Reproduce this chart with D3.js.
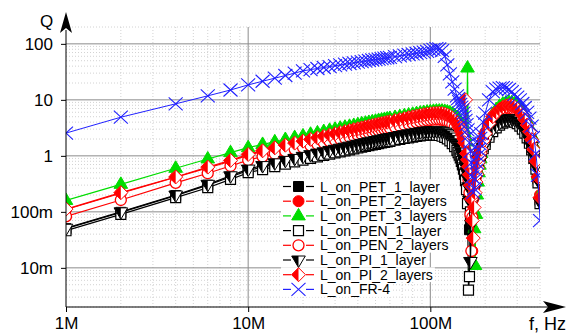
<!DOCTYPE html>
<html>
<head>
<meta charset="utf-8">
<script src="https://cdn.jsdelivr.net/npm/d3@7"></script>
<style>
  body { margin: 0; background: #fff; }
  svg { display: block; font-family: "Liberation Sans", Arial, sans-serif; }
</style>
</head>
<body>
<div id="chart"></div>
<script>
////////////////////////////////////////////////////////
//////////////////// Data //////////////////////////////
////////////////////////////////////////////////////////

// frequency points, MHz
let freqMHz = [
  1, 2, 4, 6, 8, 10, 12, 14, 16, 18, 20,
  22, 24, 26, 28, 30, 32, 34, 36, 38, 40, 42, 44, 46, 48, 50, 52, 54, 56, 58, 60,
  64, 68, 72, 76, 80, 84, 88, 92, 96, 100, 104, 108, 112, 116, 120, 124, 128, 132, 136, 140,
  142, 144, 146, 148, 150, 152, 154, 156, 158, 160, 162, 164, 166, 168, 170, 172, 174, 176, 178, 180, 182, 184, 186, 188, 190,
  195, 200, 210, 220, 230, 240, 250, 260, 270, 280, 290, 300, 310, 320, 330, 340, 350, 360, 370, 380, 390, 400
];

let qPET1 = [
  0.050, 0.098, 0.195, 0.30, 0.42, 0.55, 0.63, 0.71, 0.79, 0.86, 0.93,
  1.00, 1.06, 1.12, 1.18, 1.24, 1.30, 1.36, 1.42, 1.48, 1.53, 1.59, 1.64, 1.69, 1.74, 1.79, 1.84, 1.89, 1.93, 1.98, 2.02,
  2.10, 2.18, 2.26, 2.33, 2.40, 2.46, 2.52, 2.57, 2.61, 2.64, 2.65, 2.64, 2.60, 2.53, 2.43, 2.30, 2.14, 1.95, 1.74, 1.51,
  1.39, 1.27, 1.14, 1.01, 0.88, 0.75, 0.62, 0.50, 0.38, 0.27, 0.16, 0.048, 0.07, 0.14, 0.22, 0.30, 0.38, 0.47, 0.56, 0.65, 0.75, 0.85, 0.95, 1.05, 1.15,
  1.45, 1.75, 2.4, 3.0, 3.55, 4.0, 4.35, 4.6, 4.75, 4.75, 4.6, 4.3, 3.9, 3.45, 2.95, 2.45, 1.95, 1.5, 1.05, 0.68, 0.38, 0.16
];

let qPET2 = [
  0.110, 0.215, 0.415, 0.61, 0.80, 1.03, 1.19, 1.33, 1.47, 1.60, 1.72,
  1.85, 1.97, 2.09, 2.21, 2.32, 2.43, 2.54, 2.65, 2.75, 2.85, 2.95, 3.05, 3.15, 3.24, 3.33, 3.42, 3.51, 3.60, 3.68, 3.77,
  3.95, 4.12, 4.28, 4.44, 4.60, 4.75, 4.89, 5.02, 5.13, 5.23, 5.30, 5.34, 5.33, 5.27, 5.15, 4.97, 4.72, 4.40, 4.00, 3.55,
  3.30, 3.03, 2.75, 2.45, 2.15, 1.85, 1.55, 1.27, 1.02, 0.80, 0.60, 0.42, 0.26, 0.12, 0.02, 0.09, 0.19, 0.30, 0.42, 0.55, 0.70, 0.86, 1.03, 1.20, 1.40,
  1.95, 2.6, 3.9, 5.1, 6.1, 6.9, 7.5, 7.9, 8.0, 7.9, 7.5, 6.9, 6.2, 5.4, 4.5, 3.6, 2.75, 2.0, 1.35, 0.85, 0.45, 0.2
];

let qPET3 = [
  0.16, 0.31, 0.60, 0.88, 1.14, 1.40, 1.60, 1.78, 1.96, 2.12, 2.27,
  2.43, 2.57, 2.72, 2.86, 2.99, 3.12, 3.25, 3.37, 3.49, 3.61, 3.73, 3.84, 3.95, 4.06, 4.16, 4.27, 4.37, 4.47, 4.57, 4.66,
  4.85, 5.03, 5.20, 5.37, 5.53, 5.68, 5.82, 5.95, 6.06, 6.16, 6.25, 6.30, 6.32, 6.30, 6.22, 6.08, 5.88, 5.60, 5.25, 4.82,
  4.57, 4.30, 4.00, 3.68, 3.34, 2.98, 2.60, 2.20, 1.78, 37, 1.10, 0.80, 0.55, 0.36, 0.21, 0.11, 0.05, 0.011, 0.09, 0.2, 0.34, 0.5, 0.68, 0.88, 1.1,
  1.7, 2.4, 3.9, 5.4, 6.7, 7.7, 8.4, 8.8, 9.0, 8.9, 8.5, 7.9, 7.1, 6.2, 5.2, 4.2, 3.2, 2.3, 1.5, 0.9, 0.45, 0.2
];

let qPEN1 = [
  0.046, 0.09, 0.18, 0.27, 0.38, 0.50, 0.57, 0.64, 0.71, 0.78, 0.84,
  0.90, 0.96, 1.02, 1.07, 1.13, 1.18, 1.23, 1.28, 1.33, 1.38, 1.43, 1.48, 1.52, 1.57, 1.61, 1.66, 1.70, 1.74, 1.78, 1.82,
  1.90, 1.97, 2.04, 2.10, 2.16, 2.22, 2.27, 2.31, 2.34, 2.36, 2.37, 2.35, 2.31, 2.24, 2.14, 2.01, 1.85, 1.66, 1.46, 1.25,
  1.14, 1.03, 0.92, 0.80, 0.69, 0.58, 0.47, 0.36, 0.25, 0.14, 0.004, 0.007, 0.10, 0.18, 0.26, 0.34, 0.42, 0.50, 0.58, 0.66, 0.75, 0.84, 0.93, 1.02, 1.11,
  1.35, 1.6, 2.15, 2.7, 3.15, 3.55, 3.85, 4.05, 4.15, 4.15, 4.0, 3.75, 3.4, 3.0, 2.55, 2.1, 1.68, 1.28, 0.9, 0.58, 0.33, 0.14
];

let qPEN2 = [
  0.083, 0.163, 0.33, 0.49, 0.66, 0.84, 0.97, 1.09, 1.20, 1.31, 1.41,
  1.52, 1.61, 1.71, 1.81, 1.90, 1.99, 2.08, 2.17, 2.26, 2.34, 2.43, 2.51, 2.59, 2.67, 2.75, 2.83, 2.90, 2.98, 3.05, 3.13,
  3.27, 3.42, 3.56, 3.70, 3.83, 3.96, 4.08, 4.19, 4.29, 4.37, 4.43, 4.46, 4.45, 4.39, 4.28, 4.11, 3.88, 3.59, 3.24, 2.84,
  2.63, 2.40, 2.16, 1.91, 1.66, 1.41, 1.17, 0.94, 0.73, 0.54, 0.37, 0.22, 0.09, 0.02, 0.08, 0.17, 0.27, 0.38, 0.50, 0.63, 0.77, 0.92, 1.08, 1.24, 1.41,
  1.88, 2.4, 3.5, 4.5, 5.4, 6.1, 6.6, 6.9, 7.0, 6.9, 6.55, 6.05, 5.45, 4.75, 4.0, 3.2, 2.45, 1.78, 1.2, 0.75, 0.4, 0.17
];

let qPI1 = [
  0.051, 0.10, 0.20, 0.31, 0.44, 0.58, 0.67, 0.75, 0.83, 0.90, 0.98,
  1.05, 1.12, 1.18, 1.25, 1.31, 1.37, 1.43, 1.49, 1.55, 1.61, 1.67, 1.72, 1.78, 1.83, 1.88, 1.93, 1.98, 2.03, 2.08, 2.13,
  2.22, 2.31, 2.39, 2.47, 2.55, 2.62, 2.68, 2.74, 2.78, 2.81, 2.83, 2.83, 2.80, 2.74, 2.65, 2.52, 2.36, 2.17, 1.95, 1.71,
  1.58, 1.45, 1.32, 1.18, 1.04, 0.91, 0.78, 0.65, 0.52, 0.40, 0.28, 0.16, 0.013, 0.06, 0.15, 0.24, 0.33, 0.42, 0.52, 0.62, 0.72, 0.82, 0.92, 1.02, 1.12,
  1.4, 1.7, 2.35, 2.95, 3.45, 3.9, 4.25, 4.5, 4.62, 4.62, 4.48, 4.2, 3.82, 3.38, 2.9, 2.4, 1.92, 1.46, 1.02, 0.66, 0.37, 0.15
];

let qPI2 = [
  0.112, 0.22, 0.42, 0.63, 0.83, 1.06, 1.23, 1.39, 1.55, 1.69, 1.83,
  1.97, 2.10, 2.23, 2.36, 2.48, 2.60, 2.72, 2.84, 2.95, 3.06, 3.17, 3.28, 3.39, 3.49, 3.59, 3.69, 3.79, 3.89, 3.98, 4.08,
  4.27, 4.46, 4.64, 4.82, 4.99, 5.15, 5.30, 5.44, 5.56, 5.66, 5.74, 5.78, 5.77, 5.70, 5.57, 5.37, 5.10, 4.76, 4.34, 3.86,
  3.60, 3.32, 3.02, 2.70, 2.38, 2.05, 1.72, 10, 1.10, 0.85, 0.64, 0.46, 0.30, 0.17, 0.07, 0.034, 0.12, 0.22, 0.34, 0.47, 0.61, 0.77, 0.94, 1.12, 1.31,
  1.85, 2.5, 3.8, 5.0, 6.0, 6.8, 7.4, 7.8, 7.95, 7.85, 7.45, 6.85, 6.15, 5.35, 4.45, 3.55, 2.7, 1.95, 1.3, 0.8, 0.42, 0.18
];

let qFR4 = [
  2.55, 4.9, 8.5, 11.8, 15.0, 18.5, 21.5, 24.4, 27.2, 30.0, 33.0,
  34.7, 36.3, 37.8, 39.3, 40.7, 42.0, 43.3, 44.6, 45.8, 47.0, 48.2, 49.3, 50.4, 51.5, 52.5, 53.5, 54.5, 55.5, 56.5, 57.4,
  59.2, 61.0, 62.8, 64.5, 66.2, 67.9, 69.5, 71.0, 73.5, 77, 80, 82, 81, 76, 60, 42, 29, 21, 15.5, 11.8,
  10.5, 9.3, 8.3, 7.4, 6.6, 5.8, 5.0, 4.3, 3.6, 2.9, 2.3, 1.7, 1.2, 0.75, 0.42, 0.22, 0.26, 0.38, 0.55, 0.75, 1.0, 1.3, 1.65, 2.05, 2.5,
  4.0, 5.8, 10, 14, 15.5, 16.2, 16.5, 16.2, 15.3, 14, 12.5, 11.2, 10, 8.6, 7.3, 6.0, 4.7, 3.4, 2.2, 1.1, 0.45, 0.07
];

let seriesNames = ["L_on_PET_1_layer", "L_on_PET_2_layers", "L_on_PET_3_layers", "L_on_PEN_1_layer",
                   "L_on_PEN_2_layers", "L_on_PI_1_layer", "L_on_PI_2_layers", "L_on_FR-4"];

let xTickValues = [1e6, 1e7, 1e8];
let xTickLabels = ["1M", "10M", "100M"];
let yTickValues = [0.01, 0.1, 1, 10, 100];
let yTickLabels = ["10m", "100m", "1", "10", "100"];

////////////////////////////////////////////////////////
//////////////////// Setup /////////////////////////////
////////////////////////////////////////////////////////

let width = 568, height = 334;
let margin = ({ top: 27, right: 28, bottom: 27, left: 66 });

let colBlack = "#000000", colRed = "#ff0000", colGreen = "#00dd00", colBlue = "#2020ff";

let series = [
  { name: seriesNames[0], q: qPET1, color: colBlack, kind: "square" },
  { name: seriesNames[1], q: qPET2, color: colRed, kind: "circle" },
  { name: seriesNames[2], q: qPET3, color: colGreen, kind: "triangle" },
  { name: seriesNames[3], q: qPEN1, color: colBlack, kind: "openSquare" },
  { name: seriesNames[4], q: qPEN2, color: colRed, kind: "openCircle" },
  { name: seriesNames[5], q: qPI1, color: colBlack, kind: "halfTriDown" },
  { name: seriesNames[6], q: qPI2, color: colRed, kind: "halfDiamond" },
  { name: seriesNames[7], q: qFR4, color: colBlue, kind: "cross" }
];

let x = d3.scaleLog()
  .domain([1e6, 4e8])
  .range([margin.left, width - margin.right]);

let y = d3.scaleLog()
  .domain([0.002, 200])
  .range([height - margin.bottom, margin.top]);

// minor values 2..9 of each decade inside the domain
let minorValues = function(scale, decades) {
  let out = [];
  let [lo, hi] = scale.domain();
  decades.forEach(d => {
    for (let k = 2; k <= 9; k++) {
      let v = k * d;
      if (v >= lo * 0.999 && v <= hi * 1.001) out.push(v);
    }
  });
  return out;
};

let xMinor = minorValues(x, [1e6, 1e7, 1e8]);
let yMinor = minorValues(y, [1e-3, 1e-2, 1e-1, 1, 10, 100]);

////////////////////////////////////////////////////////
/////////////////////// Markers ////////////////////////
////////////////////////////////////////////////////////

let marker = function(g, kind, color) {
  if (kind === "square") {
    g.append("path").attr("d", "M-5,-5H5V5H-5Z").attr("fill", color).attr("stroke", color);
  } else if (kind === "circle") {
    g.append("circle").attr("r", 5.5).attr("fill", color).attr("stroke", color);
  } else if (kind === "triangle") {
    g.append("path").attr("d", "M0,-7.5L6.8,4L-6.8,4Z").attr("fill", color).attr("stroke", color);
  } else if (kind === "openSquare") {
    g.append("path").attr("d", "M-5,-5H5V5H-5Z").attr("fill", "#fff").attr("stroke", color).attr("stroke-width", 1.2);
  } else if (kind === "openCircle") {
    g.append("circle").attr("r", 5.5).attr("fill", "#fff").attr("stroke", color).attr("stroke-width", 1.3);
  } else if (kind === "halfTriDown") {
    g.append("path").attr("d", "M-6.8,-4L6.8,-4L0,7.5Z").attr("fill", "#fff").attr("stroke", color);
    g.append("path").attr("d", "M-6.8,-4L0,-4L0,7.5Z").attr("fill", color);
  } else if (kind === "halfDiamond") {
    g.append("path").attr("d", "M0,-7L7,0L0,7L-7,0Z").attr("fill", "#fff").attr("stroke", color);
    g.append("path").attr("d", "M0,-7L0,7L-7,0Z").attr("fill", color);
  } else if (kind === "cross") {
    g.append("path").attr("d", "M-7,-6.5L7,6.5M-7,6.5L7,-6.5").attr("fill", "none")
      .attr("stroke", color).attr("stroke-width", 1.1);
  }
};

/////////////////////////////////////////////////////////
//////////////////// Creating the figure ////////////////
/////////////////////////////////////////////////////////

let chart = function() {
  const svg = d3.select("#chart").append("svg")
    .attr("width", width)
    .attr("height", height)
    .attr("viewBox", [0, 0, width, height]);

  svg.append("defs").append("clipPath").attr("id", "plot-clip")
    .append("rect")
    .attr("x", margin.left).attr("y", margin.top)
    .attr("width", width - margin.left - margin.right)
    .attr("height", height - margin.top - margin.bottom);

  // grid
  const grid = svg.append("g");
  grid.selectAll(".vminor").data(xMinor).join("line")
    .attr("x1", d => x(d)).attr("x2", d => x(d))
    .attr("y1", margin.top).attr("y2", height - margin.bottom)
    .attr("stroke", "#d2d2d2").attr("stroke-dasharray", "1,2");
  grid.selectAll(".hminor").data(yMinor).join("line")
    .attr("y1", d => y(d)).attr("y2", d => y(d))
    .attr("x1", margin.left).attr("x2", width - margin.right)
    .attr("stroke", "#d2d2d2").attr("stroke-dasharray", "1,2");
  grid.selectAll(".vmajor").data(xTickValues.slice(1)).join("line")
    .attr("x1", d => x(d)).attr("x2", d => x(d))
    .attr("y1", margin.top).attr("y2", height - margin.bottom)
    .attr("stroke", "#8c8c8c");
  grid.selectAll(".hmajor").data(yTickValues).join("line")
    .attr("y1", d => y(d)).attr("y2", d => y(d))
    .attr("x1", margin.left).attr("x2", width - margin.right)
    .attr("stroke", "#8c8c8c");

  // series
  const plot = svg.append("g").attr("clip-path", "url(#plot-clip)");
  let line = d3.line()
    .x(d => x(d.f * 1e6))
    .y(d => y(d.q));

  series.forEach(s => {
    let pts = freqMHz.map((f, i) => ({ f: f, q: s.q[i] }));
    const g = plot.append("g");
    g.append("path")
      .datum(pts)
      .attr("fill", "none")
      .attr("stroke", s.color)
      .attr("stroke-width", s.kind === "cross" ? 1 : 1.2)
      .attr("d", line);
    g.selectAll("g.pt")
      .data(pts)
      .join("g")
      .attr("class", "pt")
      .attr("transform", d => `translate(${x(d.f * 1e6)},${y(d.q)})`)
      .each(function() { marker(d3.select(this), s.kind, s.color); });
  });

  // legend: white boxes first, then the entries on top
  const legend = svg.append("g").attr("font-size", 14);
  let rowH = 14.7, row0 = 186.5;
  const legendBg = legend.append("g");
  series.forEach((s, i) => {
    let cy = row0 + i * rowH;
    const item = legend.append("g");
    item.append("line").attr("x1", 283).attr("x2", 291).attr("y1", cy).attr("y2", cy)
      .attr("stroke", s.color).attr("stroke-width", 1.2);
    item.append("line").attr("x1", 306).attr("x2", 314).attr("y1", cy).attr("y2", cy)
      .attr("stroke", s.color).attr("stroke-width", 1.2);
    marker(item.append("g").attr("transform", `translate(298.5,${cy})`), s.kind, s.color);
    const t = item.append("text").attr("x", 320).attr("y", cy + 5).text(s.name);
    let w = t.node().getComputedTextLength();
    legendBg.append("rect").attr("fill", "#fff")
      .attr("x", 281).attr("y", cy - rowH / 2).attr("width", 320 + w + 2 - 281).attr("height", rowH);
  });

  // axes
  const axisX = svg.append("g").attr("transform", `translate(0,${height - margin.bottom})`);
  axisX.call(d3.axisBottom(x).tickValues(xMinor).tickSize(3.5).tickFormat(""));
  axisX.call(d3.axisBottom(x).tickValues(xTickValues).tickSize(5).tickPadding(5)
    .tickFormat((d, i) => xTickLabels[i]));
  axisX.selectAll(".domain").remove();
  axisX.selectAll("text").attr("font-size", 17).attr("font-family", "Liberation Sans, Arial, sans-serif").attr("fill", "#000");

  const axisY = svg.append("g").attr("transform", `translate(${margin.left},0)`);
  axisY.call(d3.axisLeft(y).tickValues(yMinor).tickSize(3.5).tickFormat(""));
  axisY.call(d3.axisLeft(y).tickValues(yTickValues).tickSize(5).tickPadding(8)
    .tickFormat((d, i) => yTickLabels[i]));
  axisY.selectAll(".domain").remove();
  axisY.selectAll("text").attr("font-size", 17).attr("font-family", "Liberation Sans, Arial, sans-serif").attr("fill", "#000");

  // axis lines with arrows
  let x0 = margin.left, y0 = height - margin.bottom;
  svg.append("line").attr("x1", x0).attr("x2", 548).attr("y1", y0).attr("y2", y0).attr("stroke", "#000");
  svg.append("line").attr("x1", x0).attr("x2", x0).attr("y1", y0).attr("y2", 30).attr("stroke", "#000");
  svg.append("path").attr("d", `M566,${y0}L543,${y0 - 6}L548,${y0}L543,${y0 + 6}Z`).attr("fill", "#000");
  svg.append("path").attr("d", `M${x0},12L${x0 - 6},33L${x0},28L${x0 + 6},33Z`).attr("fill", "#000");

  svg.append("text").attr("x", 46.5).attr("y", 27).attr("text-anchor", "middle")
    .attr("font-size", 17).text("Q");
  svg.append("text").attr("x", 566).attr("y", 330).attr("text-anchor", "end")
    .attr("font-size", 18).text("f, Hz");

  return svg.node();
};

chart();
</script>
</body>
</html>
